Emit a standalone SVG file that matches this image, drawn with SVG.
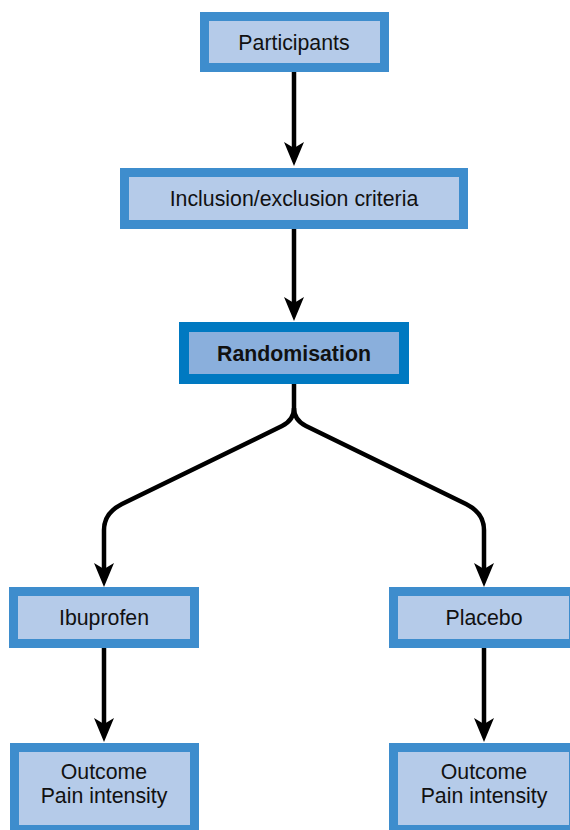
<svg xmlns="http://www.w3.org/2000/svg" width="570" height="830" viewBox="0 0 570 830">
<style>
.box{fill:#b5cbe9;stroke:#3e8dcd;stroke-width:9}
.box2{fill:#8aafdc;stroke:#0079c1;stroke-width:10}
.t{font-family:"Liberation Sans",Arial,sans-serif;font-size:21.3px;fill:#111;text-anchor:middle}
.b{font-weight:bold}
.c{fill:none;stroke:#000;stroke-width:4.5;stroke-linejoin:round}
</style>
<defs>
<marker id="ah" markerUnits="userSpaceOnUse" viewBox="0 0 24 20" markerWidth="24" markerHeight="20" refX="6" refY="10" orient="auto">
<path d="M0,0 L24,10 L0,20 L6,10 Z" fill="#000"/>
</marker>
</defs>
<rect width="570" height="830" fill="#fff"/>
<g id="connectors">
<path class="c" d="M294,72 V148" marker-end="url(#ah)"/>
<path class="c" d="M294,229 V303" marker-end="url(#ah)"/>
<path class="c" d="M294,384 V408 Q294,420 282,426 L122,504 Q104,513 104,530 V569" marker-end="url(#ah)"/>
<path class="c" d="M294,408 Q294,420 306,426 L466,504 Q484,513 484,530 V569" marker-end="url(#ah)"/>
<path class="c" d="M104,648 V724" marker-end="url(#ah)"/>
<path class="c" d="M484,648 V724" marker-end="url(#ah)"/>
</g>
<g id="participants">
<rect class="box" x="204.5" y="16.5" width="180" height="51"/>
<text class="t" x="294" y="49.5">Participants</text>
</g>
<g id="inclusion">
<rect class="box" x="124.5" y="172.5" width="339" height="52"/>
<text class="t" x="294" y="206">Inclusion/exclusion criteria</text>
</g>
<g id="randomisation">
<rect class="box2" x="184" y="327" width="220" height="52"/>
<text class="t b" x="294" y="360.5">Randomisation</text>
</g>
<g id="ibuprofen">
<rect class="box" x="13.5" y="591.5" width="181" height="52"/>
<text class="t" x="104" y="625">Ibuprofen</text>
</g>
<g id="placebo">
<rect class="box" x="393.5" y="591.5" width="180" height="52"/>
<text class="t" x="484" y="625">Placebo</text>
</g>
<g id="outcome1">
<rect class="box" x="14.5" y="747.5" width="180" height="82"/>
<text class="t" x="104" y="779">Outcome</text>
<text class="t" x="104" y="803">Pain intensity</text>
</g>
<g id="outcome2">
<rect class="box" x="393.5" y="747.5" width="180" height="82"/>
<text class="t" x="484" y="779">Outcome</text>
<text class="t" x="484" y="803">Pain intensity</text>
</g>
</svg>
